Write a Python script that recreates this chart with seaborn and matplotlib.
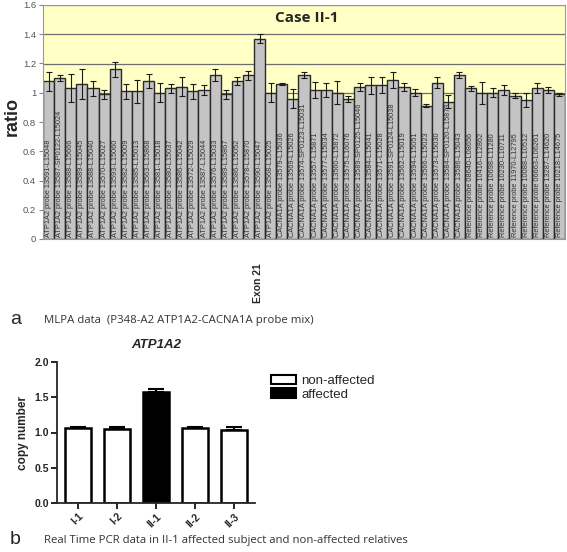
import matplotlib
matplotlib.use("Agg")
import matplotlib.pyplot as plt
import seaborn as sns
import pandas as pd
import numpy as np
from matplotlib.patches import Patch

sns.set_style("white")
plt.rcParams['font.family'] = ['Liberation Sans', 'DejaVu Sans']

# ---------- data (panel a) ----------
probes = [
    "ATP1A2 probe 13591-L15048", "ATP1A2 probe 13587-SP0122-L15024", "ATP1A2 probe 13588-L15666",
    "ATP1A2 probe 13589-L15045", "ATP1A2 probe 13588-L15040", "ATP1A2 probe 13570-L15027",
    "ATP1A2 probe 13593-L15060", "ATP1A2 probe 13582-L15009", "ATP1A2 probe 13585-L15013",
    "ATP1A2 probe 13563-L15868", "ATP1A2 probe 13581-L15018", "ATP1A2 probe 13580-L15037",
    "ATP1A2 probe 13586-L15042", "ATP1A2 probe 13572-L15029", "ATP1A2 probe 13587-L15044",
    "ATP1A2 probe 13576-L15033", "ATP1A2 probe 13589-L15867", "ATP1A2 probe 13586-L15052",
    "ATP1A2 probe 13578-L15870", "ATP1A2 probe 13590-L15047", "ATP1A2 probe 13568-L15025",
    "CACNA1A probe 13579-L15036", "CACNA1A probe 13569-L15026", "CACNA1A probe 13574-SP0123-L15031",
    "CACNA1A probe 13557-L15871", "CACNA1A probe 13577-L15034", "CACNA1A probe 13560-L15872",
    "CACNA1A probe 13575-L16076", "CACNA1A probe 13589-SP0125-L15046", "CACNA1A probe 13584-L15041",
    "CACNA1A probe 13571-L15028", "CACNA1A probe 13591-SP0124-L15038", "CACNA1A probe 13562-L15019",
    "CACNA1A probe 13594-L15051", "CACNA1A probe 13566-L15023", "CACNA1A probe 13573-L15030",
    "CACNA1A probe 13584-SP0120-L15873", "CACNA1A probe 13586-L15043",
    "Reference probe 08640-L08656", "Reference probe 10416-L12862", "Reference probe 10698-L11280",
    "Reference probe 10230-L10711", "Reference probe 11970-L12795", "Reference probe 10088-L10512",
    "Reference probe 06663-L06261", "Reference probe 13287-L14620", "Reference probe 10218-L14675",
]
ratios = [1.08, 1.10, 1.03, 1.06, 1.03, 0.99, 1.16, 1.01, 1.01, 1.08,
          1.00, 1.03, 1.04, 1.01, 1.02, 1.12, 0.99, 1.08, 1.12, 1.37,
          1.00, 1.06, 0.96, 1.12, 1.02, 1.02, 1.00, 0.96, 1.04, 1.05,
          1.05, 1.09, 1.04, 1.00, 0.91, 1.07, 0.94, 1.12, 1.03, 1.00,
          1.00, 1.02, 0.98, 0.95, 1.03, 1.02, 0.99]
ratio_err = [0.065, 0.02, 0.095, 0.105, 0.05, 0.03, 0.05, 0.05, 0.08, 0.05,
             0.065, 0.03, 0.065, 0.05, 0.035, 0.04, 0.03, 0.03, 0.03, 0.03,
             0.065, 0.01, 0.065, 0.02, 0.055, 0.05, 0.08, 0.02, 0.03, 0.06,
             0.055, 0.055, 0.025, 0.025, 0.01, 0.04, 0.045, 0.02, 0.015, 0.075,
             0.03, 0.035, 0.015, 0.05, 0.035, 0.02, 0.01]
exon_label = "Exon 21"

# ---------- data (panel b) ----------
subjects = ["I-1", "I-2", "II-1", "II-2", "II-3"]
copy_number = [1.07, 1.05, 1.57, 1.07, 1.03]
copy_err = [0.01, 0.03, 0.05, 0.01, 0.05]
status = ["non-affected", "non-affected", "affected", "non-affected", "non-affected"]

fig = plt.figure(figsize=(5.67, 5.52), dpi=100)

# ================= panel a =================
ax1 = fig.add_axes([43/567, 1-239/552, 522/567, 234/552])
ax1.set_facecolor("#FFFFC6")
df1 = pd.DataFrame({"probe": probes, "ratio": ratios})
sns.barplot(data=df1, x="probe", y="ratio", color="#C4C4C4", edgecolor="#2a2a2a",
            linewidth=1.0, width=1.0, saturation=1, ax=ax1, zorder=2)
ax1.errorbar(np.arange(len(ratios)), ratios, yerr=ratio_err, fmt="none",
             ecolor="#1a1a1a", elinewidth=0.8, capsize=2, capthick=0.8, zorder=3)
for yv in np.arange(0.2, 1.61, 0.2):
    ax1.axhline(yv, color="#6e6e6e", lw=0.9, zorder=1)
ax1.set_ylim(0, 1.6)
ax1.set_xlim(-0.5, len(ratios)-0.5)
ax1.set_yticks(np.arange(0, 1.61, 0.2))
ax1.set_yticklabels(["0", "0.2", "0.4", "0.6", "0.8", "1", "1.2", "1.4", "1.6"],
                    fontsize=6.8, color="#555555")
ax1.tick_params(axis="y", length=3, color="#888888", pad=2, left=True)
ax1.set_xticks([])
ax1.set_xlabel("")
ax1.set_ylabel("")
for s in ax1.spines.values():
    s.set_color("#999999")
    s.set_linewidth(0.8)
for i, p in enumerate(probes):
    ax1.text(i, 0.015, p, rotation=90, ha="center", va="bottom", fontsize=5.3,
             color="#333333", zorder=4)
ax1.text((307-43)/522*len(ratios)-0.5, 1.51, "Case II-1",
         ha="center", va="center", fontsize=11, fontweight="bold", zorder=4,
         family=["Open Sans", "DejaVu Sans"])
fig.text(12/567, 1-117/552, "ratio", rotation=90, ha="center", va="center",
         fontsize=13, fontweight="bold")
fig.text(258/567, 1-283/552, exon_label, rotation=90, ha="center", va="center",
         fontsize=7.5, fontweight="bold")
fig.text(10/567, 1-320/552, "a", fontsize=14, va="center", ha="left")
fig.text(44/567, 1-321/552, "MLPA data  (P348-A2 ATP1A2-CACNA1A probe mix)",
         fontsize=8.2, va="center", ha="left", color="#333333",
         family=["Open Sans", "DejaVu Sans"])

# ================= panel b =================
ax2 = fig.add_axes([57/567, 1-503/552, 198/567, 141/552])
df2 = pd.DataFrame({"subject": subjects, "copy": copy_number, "status": status})
sns.barplot(data=df2, x="subject", y="copy", hue="status",
            palette={"non-affected": "white", "affected": "black"},
            dodge=False, width=0.69, edgecolor="black", linewidth=1.8,
            saturation=1, legend=False, ax=ax2, zorder=2)
ax2.errorbar(np.arange(len(subjects)), copy_number,
             yerr=[np.zeros(len(copy_err)), copy_err], fmt="none",
             ecolor="black", elinewidth=1.5, capsize=6, capthick=1.5, zorder=1)
ax2.set_ylim(0, 2.0)
ax2.set_xlim(-0.54, 4.54)
ax2.set_yticks([0, 0.5, 1.0, 1.5, 2.0])
ax2.set_yticklabels(["0.0", "0.5", "1.0", "1.5", "2.0"], fontsize=7.5, fontweight="bold")
ax2.set_xticks(range(len(subjects)))
ax2.set_xticklabels(subjects, rotation=45, ha="right", rotation_mode="anchor",
                    fontsize=7.5, fontweight="bold")
ax2.tick_params(axis="both", length=4, width=1.2, color="black", left=True, bottom=True,
                pad=2)
ax2.set_xlabel("")
ax2.set_ylabel("copy number", fontsize=8.5, fontweight="bold", labelpad=4)
ax2.set_title("ATP1A2", fontsize=9.5, fontweight="bold", style="italic", pad=10)
sns.despine(ax=ax2)
ax2.spines["left"].set_linewidth(1.3)
ax2.spines["bottom"].set_linewidth(1.3)
handles = [Patch(facecolor="white", edgecolor="black", linewidth=1.5, label="non-affected"),
           Patch(facecolor="black", edgecolor="black", linewidth=1.5, label="affected")]
fig.legend(handles=handles, loc="upper left", bbox_to_anchor=(264/567, 1-368/552),
           frameon=False, fontsize=9.5, handlelength=1.9, handleheight=0.75,
           labelspacing=0.1, handletextpad=0.45, borderpad=0)
fig.text(10/567, 1-540/552, "b", fontsize=14, va="center", ha="left")
fig.text(44/567, 1-541/552,
         "Real Time PCR data in II-1 affected subject and non-affected relatives",
         fontsize=8.2, va="center", ha="left", color="#333333",
         family=["Open Sans", "DejaVu Sans"])

fig.savefig("out.png", dpi=100)
